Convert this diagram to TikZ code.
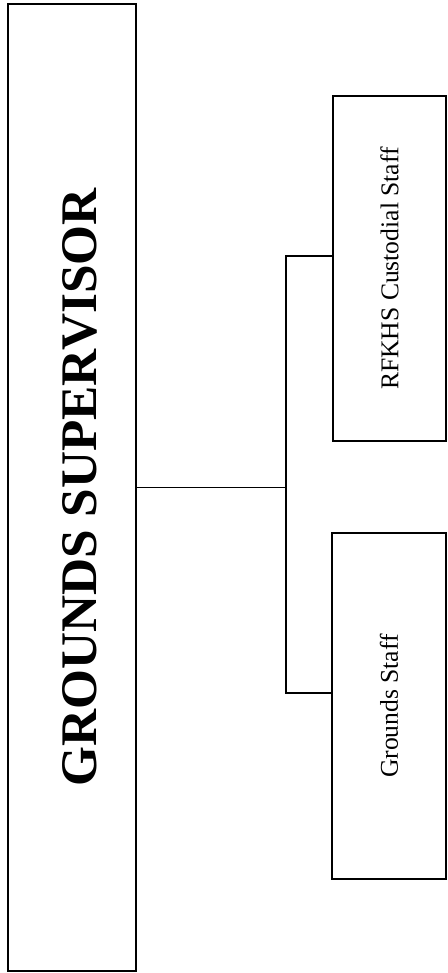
\documentclass[tikz,border=0pt]{standalone}
\usepackage{fontspec}
\setmainfont{Liberation Serif}
\usepackage{graphicx}
\usetikzlibrary{positioning,calc}

\tikzset{
  orgbox/.style = {draw, line width=1.8pt, inner sep=0pt, align=center},
  link/.style = {line width=1.8pt}
}

\begin{document}
\begin{tikzpicture}[x=1pt, y=-1pt, line cap=rect, line join=miter]
		\useasboundingbox (0,0) rectangle (447,973);
		% supervisor
		\node [orgbox, minimum width=128pt, minimum height=967pt] (sup) at (72,487.5)
			{\rotatebox{90}{\raisebox{-8pt}[\height][\depth]{\fontsize{51.3}{60}\selectfont\bfseries GROUNDS SUPERVISOR}}};
		% staff
		\node [orgbox, minimum width=113pt, minimum height=345pt] (rf) at (389.5,268.5)
			{\rotatebox{90}{\fontsize{25.6}{30}\selectfont RFKHS Custodial Staff}};
		\node [orgbox, minimum width=114pt, minimum height=346pt] (gs) at (389,706)
			{\rotatebox{90}{\fontsize{25.6}{30}\selectfont Grounds Staff}};
		% lines
		\coordinate (top) at (286,256);
		\coordinate (bot) at (286,693);
		\draw [link] (sup.east) -- (sup.east -| top);
		\draw [link] (rf.west |- top) -- (top) -- (bot) -- (gs.west |- bot);
	\end{tikzpicture}
\end{document}
